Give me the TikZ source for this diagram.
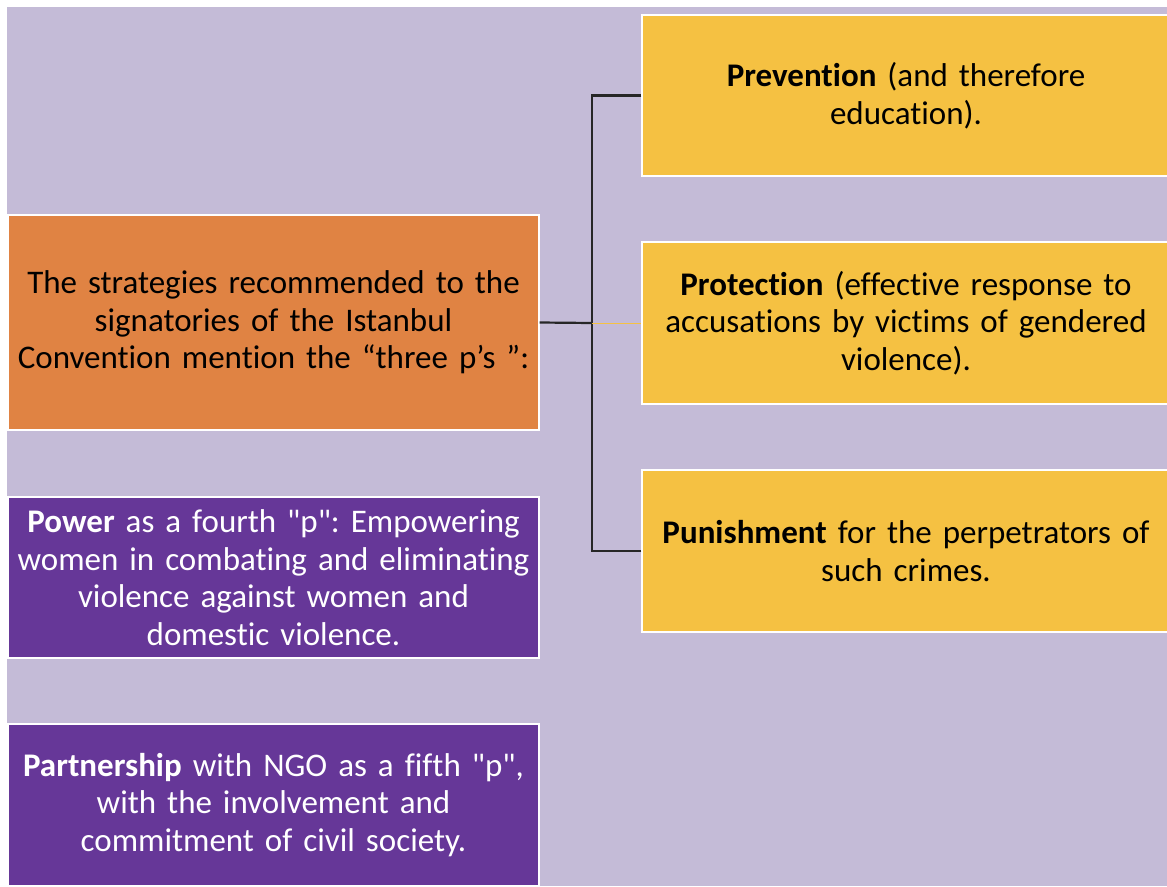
\documentclass[tikz,border=0pt]{standalone}
\usepackage{fontspec}
\setmainfont{Carlito}[Ligatures={TeX,NoCommon}]
\frenchspacing
\definecolor{lav}{HTML}{C4BBD7}
\definecolor{orng}{HTML}{E08343}
\definecolor{purp}{HTML}{663798}
\definecolor{yel}{HTML}{F5C142}
\tikzset{
  box/.style={draw=white, line width=1.2pt, minimum height=#1, text width=528pt, align=center, inner sep=0pt,
    font=\fontsize{33}{37.5}\selectfont},
  conn/.style={line width=2.2pt, black!85}
}
\begin{document}
\begin{tikzpicture}[x=1pt, y=-1pt]
\useasboundingbox (0,0) rectangle (1167,886);
\fill[white] (0,0) rectangle (1167,886);
\fill[lav] (7,7) rectangle (1167,886);
\node[box=215pt, fill=orng, minimum width=531pt] (three) at (273.5,322.5) {The strategies recommended to the\\signatories of the Istanbul\\Convention mention the “three p’s ”:};
\node[box=161pt, fill=purp, text=white, minimum width=531pt] (power) at (273.5,577.5) {\textbf{Power} as a fourth \textquotedbl p\textquotedbl: Empowering\\women in combating and eliminating\\violence against women and\\domestic violence.};
\node[box=162pt, fill=purp, text=white, minimum width=531pt] (partner) at (273.5,805) {\textbf{Partnership} with NGO as a fifth \textquotedbl p\textquotedbl,\\with the involvement and\\commitment of civil society.};
\node[box=161pt, fill=yel, minimum width=521pt] (prev) at (906,95.5) {\textbf{Prevention} (and therefore\\education).};
\node[box=162pt, fill=yel, minimum width=521pt] (prot) at (906,323) {\textbf{Protection} (effective response to\\accusations by victims of gendered\\violence).};
\node[box=162pt, fill=yel, minimum width=521pt] (pun) at (906,551) {\textbf{Punishment} for the perpetrators of\\such crimes.};
\coordinate (trunk) at (592,323);
\draw[conn] (three.east) -- (trunk);
\draw[conn] (prev.west) -| (trunk);
\draw[conn] (pun.west) -| (trunk);
\draw[yel, line width=1pt] (trunk) -- (prot.west);
\end{tikzpicture}
\end{document}
